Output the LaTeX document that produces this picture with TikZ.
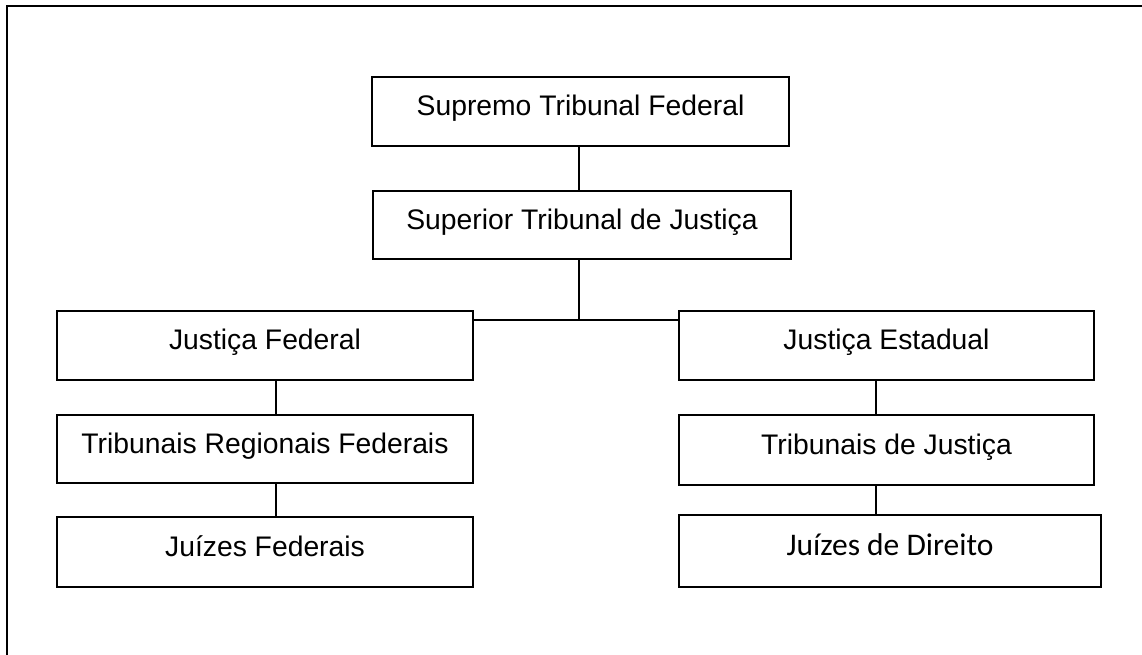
\documentclass[tikz,border=0pt]{standalone}
\usepackage{fontspec}
\setmainfont{Liberation Sans}
\newfontfamily\calibfont{Carlito}
\begin{document}
\begin{tikzpicture}[x=1pt,y=-1pt,
  box/.style={draw=black, line width=1.4pt, rectangle, inner sep=0pt,
    text height=20pt, text depth=12pt,
    font=\fontsize{28.3}{34}\selectfont},
  link/.style={draw=black, line width=2pt},
  frame/.style={draw=black, line width=2.3pt}]
\useasboundingbox (0,0) rectangle (1142,655);
\begin{scope}
\clip (0,0) rectangle (1142,655);
\draw[frame] (7,680) -- (7,6) -- (1160,6);
\end{scope}
% nodes
\node[box, minimum width=417pt, minimum height=69pt] (stf) at (580.5,111.5) {Supremo Tribunal Federal};
\node[box, minimum width=418pt, minimum height=68pt] (stj) at (582,225) {Superior Tribunal de Justiça};
\node[box, minimum width=416pt, minimum height=69pt] (jf) at (265,345.5) {Justiça Federal};
\node[box, minimum width=416pt, minimum height=68pt] (trf) at (265,449) {Tribunais Regionais Federais};
\node[box, minimum width=416pt, minimum height=70pt] (juf) at (265,552) {Juízes Federais};
\node[box, minimum width=415pt, minimum height=69pt] (je) at (886.5,345.5) {Justiça Estadual};
\node[box, minimum width=415pt, minimum height=70pt] (tj) at (886.5,450) {Tribunais de Justiça};
\node[box, minimum width=422pt, minimum height=72pt, font=\calibfont\fontsize{31.5}{38}\selectfont] (jd) at (890,551) {Juízes de Direito};
% connector coordinates
\coordinate (mid) at (579,320);
\coordinate (lx) at (276,0);
\coordinate (rx) at (876,0);
% connectors
\draw[link] (mid |- stf.south) -- (mid |- stj.north);
\draw[link] (mid |- stj.south) -- (mid);
\draw[link] (jf.east |- mid) -- (je.west |- mid);
\draw[link] (lx |- jf.south) -- (lx |- trf.north);
\draw[link] (lx |- trf.south) -- (lx |- juf.north);
\draw[link] (rx |- je.south) -- (rx |- tj.north);
\draw[link] (rx |- tj.south) -- (rx |- jd.north);
\end{tikzpicture}
\end{document}
